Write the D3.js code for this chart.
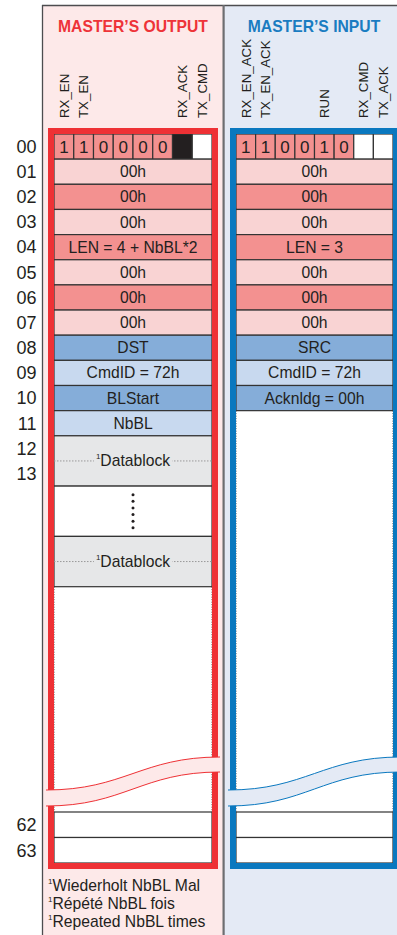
<!DOCTYPE html>
<html><head><meta charset="utf-8">
<script src="https://cdn.jsdelivr.net/npm/d3@7"></script>
<style>body{margin:0;background:#fff}svg{display:block;font-family:"Liberation Sans",Arial,Helvetica,sans-serif}</style>
</head><body><svg id="c" width="397" height="935"></svg>
<script>
// ---------- data ----------
const titles = ["MASTER\u2019S OUTPUT", "MASTER\u2019S INPUT"];
const rowNumbers = ["00","01","02","03","04","05","06","07","08","09","10","11","12","13"];
const rowNumbersEnd = ["62","63"];
const outputBitLabels = ["RX_EN","TX_EN","","","","","RX_ACK","TX_CMD"];
const inputBitLabels = ["RX_EN_ACK","TX_EN_ACK","","","RUN","","RX_CMD","TX_ACK"];
const outputBits = ["1","1","0","0","0","0","on","off"];
const inputBits = ["1","1","0","0","1","0","off","off"];
const outputRows = ["00h","00h","00h","LEN = 4 + NbBL*2","00h","00h","00h","DST","CmdID = 72h","BLStart","NbBL"];
const inputRows = ["00h","00h","00h","LEN = 3","00h","00h","00h","SRC","CmdID = 72h","Acknldg = 00h"];
const outputRepeat = ["Datablock", "", "Datablock"];
const footnotes = ["Wiederholt NbBL Mal", "R\u00e9p\u00e9t\u00e9 NbBL fois", "Repeated NbBL times"];

// ---------- style ----------
const C = {
  text: "#231f20", pinkBg: "#fde9e9", blueBg: "#e4eaf5",
  red: "#ee3135", blue: "#0a78bf", titleRed: "#ee3338", titleBlue: "#1a7cc1",
  pinkLight: "#f9d3d3", pinkDark: "#f39190", blueDark: "#85add9", blueLight: "#c8d9ef",
  gray: "#e6e7e8", border: "#333"
};
const FS = 15.7;
const svg = d3.select("#c");

// scales
const yTop = d3.scaleLinear().domain([0, 18]).range([134, 134 + 18 * 25.15]);
const yEnd = d3.scaleLinear().domain([62, 64]).range([812, 863]);
const emptyEnd = 812;

// panel backgrounds
svg.append("rect").attr("x", 42).attr("y", 5).attr("width", 181).attr("height", 930).attr("fill", C.pinkBg);
svg.append("rect").attr("x", 223).attr("y", 5).attr("width", 174).attr("height", 930).attr("fill", C.blueBg);
svg.append("line").attr("x1", 42.5).attr("x2", 42.5).attr("y1", 5).attr("y2", 935).attr("stroke", "#4d4d4f").attr("stroke-width", 1.3);
svg.append("line").attr("x1", 42).attr("x2", 397).attr("y1", 5.5).attr("y2", 5.5).attr("stroke", "#4d4d4f").attr("stroke-width", 1.3);
svg.append("line").attr("x1", 223.6).attr("x2", 223.6).attr("y1", 5).attr("y2", 935).attr("stroke", "#6d6e71").attr("stroke-width", 2.2);

// row numbers
svg.append("g").selectAll("text").data(rowNumbers).join("text")
  .attr("x", 36.5).attr("y", (d, i) => yTop(i + 0.5) + 6.3)
  .attr("text-anchor", "end").attr("font-size", 18).attr("fill", C.text).text(d => d);
svg.append("g").selectAll("text").data(rowNumbersEnd).join("text")
  .attr("x", 36.5).attr("y", d => yEnd(+d + 0.5) + 6.3)
  .attr("text-anchor", "end").attr("font-size", 18).attr("fill", C.text).text(d => d);

function rowFill(r) { // r = row number (1..)
  if (r <= 7) return r % 2 === 1 ? C.pinkLight : C.pinkDark;
  return r % 2 === 0 ? C.blueDark : C.blueLight;
}

function drawPanel(o) {
  const g = svg.append("g");
  const x0 = o.x0, x1 = o.x1, w = x1 - x0, cx = (x0 + x1) / 2;
  // title
  g.append("text").attr("x", o.titleX).attr("y", 32).attr("text-anchor", "middle")
    .attr("font-size", 15.7).attr("font-weight", "bold").attr("fill", o.titleColor).text(o.title);
  // bit cells
  const xb = d3.scaleBand().domain(d3.range(8)).range([x0, x1]);
  g.append("g").selectAll("text").data(o.bitLabels).join("text")
    .attr("transform", (d, i) => `translate(${xb(i) + xb.bandwidth() / 2 + 4.8},118) rotate(-90)`)
    .attr("font-size", 13.3).attr("fill", C.text).text(d => d);
  // empty region
  const lastEnd = yTop(o.filledRows);
  g.append("rect").attr("x", x0).attr("y", lastEnd).attr("width", w).attr("height", emptyEnd - lastEnd).attr("fill", "#fff");
  [x0, x1].forEach(x => g.append("line").attr("x1", x).attr("x2", x).attr("y1", lastEnd).attr("y2", emptyEnd)
    .attr("stroke", "#333").attr("stroke-width", 1).attr("stroke-dasharray", "1,1.5"));
  // row 00 bits
  g.append("g").selectAll("rect").data(o.bits).join("rect")
    .attr("x", (d, i) => xb(i)).attr("y", yTop(0)).attr("width", xb.bandwidth()).attr("height", yTop(1) - yTop(0))
    .attr("fill", d => d === "on" ? C.text : d === "off" ? "#fff" : C.pinkDark)
    .attr("stroke", C.border).attr("stroke-width", 1.2);
  g.append("g").selectAll("text").data(o.bits).join("text")
    .attr("x", (d, i) => xb(i) + xb.bandwidth() / 2).attr("y", yTop(0.5) + 6.2)
    .attr("text-anchor", "middle").attr("font-size", 17).attr("fill", C.text)
    .text(d => (d === "on" || d === "off") ? "" : d);
  // byte rows
  g.append("g").selectAll("rect").data(o.rows).join("rect")
    .attr("x", x0).attr("y", (d, i) => yTop(i + 1)).attr("width", w).attr("height", yTop(1) - yTop(0))
    .attr("fill", (d, i) => rowFill(i + 1)).attr("stroke", C.border).attr("stroke-width", 1.2);
  g.append("g").selectAll("text").data(o.rows).join("text")
    .attr("x", cx).attr("y", (d, i) => yTop(i + 1.5) + 5.5)
    .attr("text-anchor", "middle").attr("font-size", FS).attr("fill", C.text).text(d => d);
  // repeated blocks
  if (o.repeat) {
    const start = o.rows.length + 1;
    o.repeat.forEach((d, k) => {
      const ya = yTop(start + 2 * k), yb = yTop(start + 2 * k + 2), ym = (ya + yb) / 2;
      if (d) {
        g.append("rect").attr("x", x0).attr("y", ya).attr("width", w).attr("height", yb - ya)
          .attr("fill", C.gray).attr("stroke", C.border).attr("stroke-width", 1.2);
        g.append("line").attr("x1", x0).attr("x2", x1).attr("y1", ym).attr("y2", ym)
          .attr("stroke", "#999").attr("stroke-width", 1).attr("stroke-dasharray", "1.5,1.5");
        const t = g.append("text").attr("x", cx).attr("y", ym + 5.5).attr("text-anchor", "middle").attr("fill", C.text);
        t.append("tspan").attr("font-size", 8).attr("dy", -7).text("1");
        t.append("tspan").attr("font-size", FS).attr("dy", 7).text(d);
        const bb = t.node().getBBox();
        g.insert("rect", () => t.node()).attr("x", bb.x - 2).attr("y", ym - 2).attr("width", bb.width + 4).attr("height", 4).attr("fill", C.gray);
      } else {
        g.append("rect").attr("x", x0).attr("y", ya).attr("width", w).attr("height", yb - ya)
          .attr("fill", "#fff").attr("stroke", C.border).attr("stroke-width", 1.2);
        g.append("g").selectAll("circle").data(d3.range(6)).join("circle")
          .attr("cx", cx).attr("cy", j => ym - 16.5 + j * 6.6).attr("r", 1.5).attr("fill", C.text);
      }
    });
  }
  // rows 62, 63
  g.append("g").selectAll("rect").data(rowNumbersEnd).join("rect")
    .attr("x", x0).attr("y", d => yEnd(+d)).attr("width", w).attr("height", yEnd(63) - yEnd(62))
    .attr("fill", "#fff").attr("stroke", C.border).attr("stroke-width", 1.2);
  // frame
  g.append("rect").attr("x", x0 - 3).attr("y", 131).attr("width", w + 6).attr("height", 735)
    .attr("fill", "none").attr("stroke", o.frame).attr("stroke-width", 6);
  // wave break
  const bx0 = x0 - 8, bx1 = x1 + 8, bw = bx1 - bx0;
  const top = `M${bx0},790 C${bx0 + bw * 0.45},790 ${bx1 - bw * 0.45},757 ${bx1},757`;
  const bot = `M${bx0},806 C${bx0 + bw * 0.45},806 ${bx1 - bw * 0.45},772 ${bx1},772`;
  g.append("path").attr("d", `${top} L${bx1},772 C${bx1 - bw * 0.45},772 ${bx0 + bw * 0.45},806 ${bx0},806 Z`).attr("fill", o.bg);
  [top, bot].forEach(p => g.append("path").attr("d", p).attr("fill", "none").attr("stroke", o.frame).attr("stroke-width", 1));
}

drawPanel({ x0: 54, x1: 212, titleX: 133, title: titles[0], titleColor: C.titleRed, frame: C.red, bg: C.pinkBg,
  bitLabels: outputBitLabels, bits: outputBits, rows: outputRows, repeat: outputRepeat, filledRows: outputRows.length + 1 + 2 * outputRepeat.length });
drawPanel({ x0: 236, x1: 393, titleX: 314, title: titles[1], titleColor: C.titleBlue, frame: C.blue, bg: C.blueBg,
  bitLabels: inputBitLabels, bits: inputBits, rows: inputRows, repeat: null, filledRows: inputRows.length + 1 });

// footnotes
const fn = svg.append("g").selectAll("text").data(footnotes).join("text")
  .attr("x", 48).attr("y", (d, i) => 890.5 + i * 18.2).attr("fill", C.text);
fn.append("tspan").attr("font-size", 8).attr("dy", -7).text("1");
fn.append("tspan").attr("font-size", FS).attr("dy", 7).text(d => d);
</script></body></html>
